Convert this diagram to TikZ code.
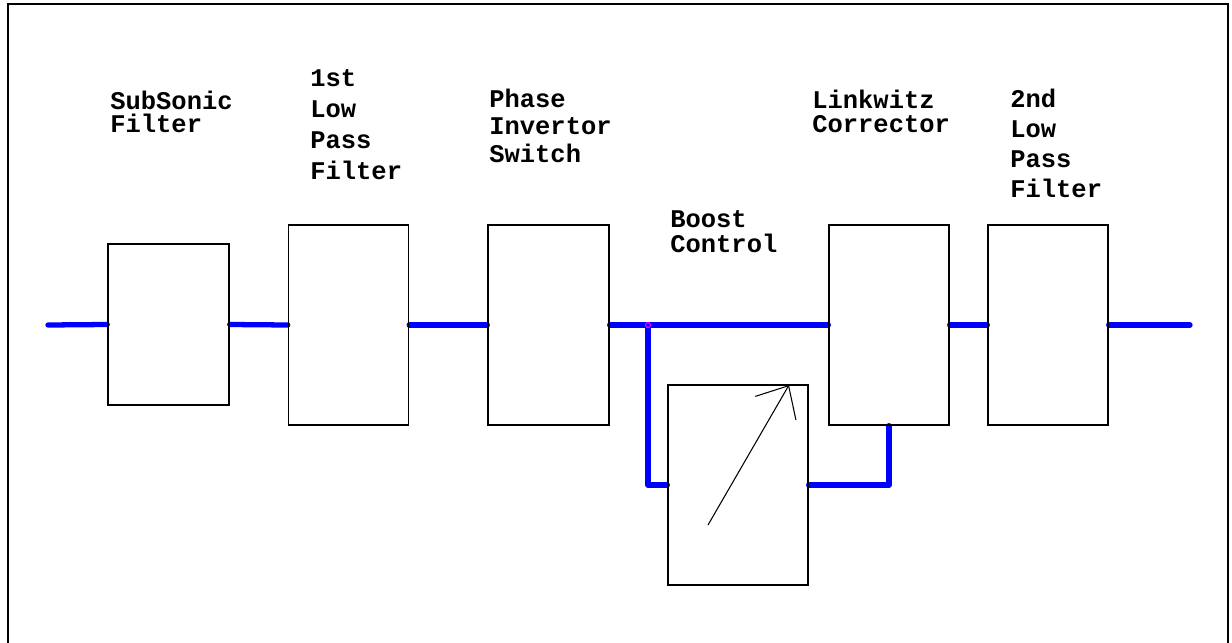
\documentclass[tikz,border=0pt]{standalone}
\usepackage{fontspec}
\setmonofont{Liberation Mono}
\usepackage{tikz}
\usetikzlibrary{arrows.meta,positioning,backgrounds}
\definecolor{cWire}{HTML}{0000FF}
\definecolor{cDot}{HTML}{FF00FF}
\tikzset{
  blk/.style  ={rectangle, draw=black, line width=0.8pt, minimum width=2.42cm,
                minimum height=4cm, inner sep=0pt},
  wire/.style ={draw=cWire, line width=3pt, line cap=round, line join=round},
  lbl/.style  ={anchor=base west, align=left, inner sep=0pt,
                font=\ttfamily\bfseries\fontsize{14.5pt}{#1}\selectfont},
  lbl/.default=15pt,
  knob/.style ={-{Straight Barb[length=5.2mm,width=9.4mm]}, line width=0.6pt},
}
\begin{document}
\begin{tikzpicture}[x=0.02cm,y=-0.02cm]
  \useasboundingbox (0,0) rectangle (1232,643);
  \draw[line width=0.9pt] (8,650) -- (8,4) -- (1228,4) -- (1228,650);

  % blocks
  \node[blk,minimum height=3.22cm] (sub) at (168.5,324.5) {};
  \node[blk,minimum width=2.4cm]   (lp1) at (348.5,325) {};
  \node[blk]                       (inv) at (548.5,325) {};
  \node[blk,minimum width=2.8cm]   (boost) at (738,485) {};
  \node[blk,minimum width=2.4cm]   (link) at (889,325) {};
  \node[blk,minimum width=2.4cm]   (lp2) at (1048,325) {};

  % labels (placed at the baseline of their last line)
  \node[lbl=13pt]   (tsub)   at (110,132)  {SubSonic\\Filter};
  \node[lbl=17.6pt] (tlp1)   at (310,179)  {1st\\Low\\Pass\\Filter};
  \node[lbl=15.6pt] (tinv)   at (489,162)  {Phase\\Invertor\\Switch};
  \node[lbl=14.2pt] (tboost) at (670,252)  {Boost\\Control};
  \node[lbl=13.1pt] (tlink)  at (812,132)  {Linkwitz\\Corrector};
  \node[lbl=17pt]   (tlp2)   at (1010,197) {2nd\\Low\\Pass\\Filter};

  \coordinate (in)  at (48,325);
  \coordinate (out) at (1190,325);
  \coordinate (jn)  at (648,325);

  % signal path
  \begin{scope}[on background layer]
    \draw[wire] (in) -- (sub.west);
    \draw[wire] (sub.east) -- (lp1.west);
    \draw[wire] (lp1.east) -- (inv.west);
    \draw[wire] (inv.east) -- (link.west);
    \draw[wire] (link.east) -- (lp2.west);
    \draw[wire] (lp2.east) -- (out);
    \draw[wire] (jn) |- (boost.west);
    \draw[wire] (boost.east) -| (link.south);
  \end{scope}
  \draw[cDot,line width=0.6pt] (jn) circle (0.05cm);

  % boost pot
  \coordinate (kb) at (708,525);
  \coordinate (kt) at (789,385);
  \draw[knob] (kb) -- (kt);
\end{tikzpicture}
\end{document}
